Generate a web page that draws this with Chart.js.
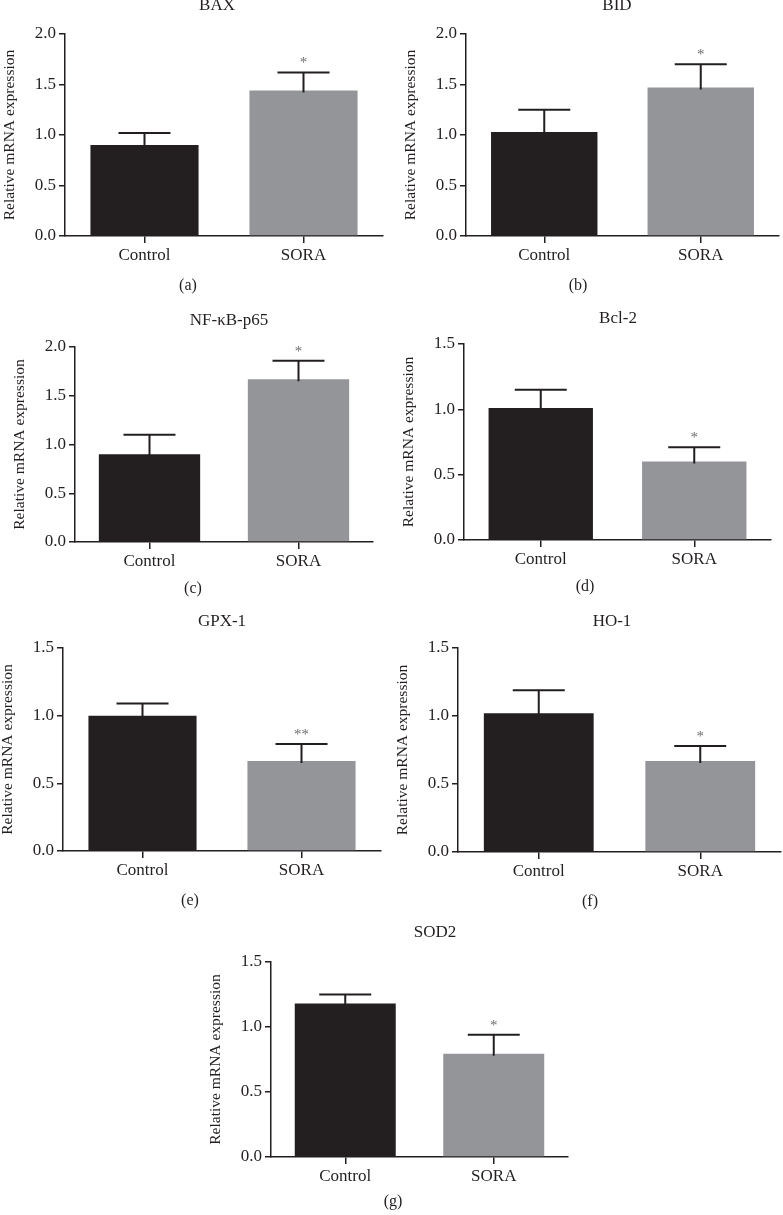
<!DOCTYPE html>
<html>
<head>
<meta charset="utf-8">
<script src="https://cdn.jsdelivr.net/npm/chart.js@4.4.1/dist/chart.umd.min.js"></script>
<style>
  html, body { margin: 0; padding: 0; background: #fff; }
  #figure { position: relative; width: 783px; height: 1215px; overflow: hidden; }
  #figure canvas { position: absolute; }
</style>
</head>
<body>
<div id="figure"></div>
<script>
// data
const genes = ['BAX', 'BID', 'NF-\u03baB-p65', 'Bcl-2', 'GPX-1', 'HO-1', 'SOD2'];
const panelTags = ['(a)', '(b)', '(c)', '(d)', '(e)', '(f)', '(g)'];
const groups = ['Control', 'SORA'];
const controlMean = [0.90, 1.03, 0.90, 1.01, 1.00, 1.02, 1.18];
const controlErr = [0.12, 0.22, 0.20, 0.14, 0.09, 0.17, 0.07];
const soraMean = [1.44, 1.47, 1.67, 0.60, 0.665, 0.67, 0.795];
const soraErr = [0.18, 0.23, 0.19, 0.11, 0.125, 0.11, 0.145];
const yMax = [2.0, 2.0, 2.0, 1.5, 1.5, 1.5, 1.5];
const sigMarks = ['*', '*', '*', '*', '**', '*', '*'];

// where each panel sits on the page (px)
const panels = [
  {axisX: 65,  right: 383, top: 34,  zero: 236,  titleX: 217, titleY: 9.5, tagX: 188, tagY: 286},
  {axisX: 466, right: 779, top: 34,  zero: 236,  titleX: 617, titleY: 9.5, tagX: 578, tagY: 286},
  {axisX: 75,  right: 373, top: 347, zero: 542,  titleX: 229, titleY: 325, tagX: 193, tagY: 589},
  {axisX: 464, right: 771, top: 344, zero: 540,  titleX: 618, titleY: 323, tagX: 585, tagY: 587},
  {axisX: 63,  right: 381, top: 648, zero: 851,  titleX: 222, titleY: 626, tagX: 190, tagY: 901},
  {axisX: 458, right: 781, top: 648, zero: 852,  titleX: 612, titleY: 626, tagX: 590, tagY: 902},
  {axisX: 271, right: 568, top: 962, zero: 1157, titleX: 435, titleY: 937, tagX: 393, tagY: 1202}
];

const FONT = "'Liberation Serif', 'Times New Roman', serif";
const INK = '#231f20';
const Y_W = 64;   // width reserved for the y axis
const X_H = 30;   // height reserved for the x axis

Chart.defaults.font.family = FONT;
Chart.defaults.color = INK;

// error bars, significance marks, panel title and tag
const panelExtras = {
  id: 'panelExtras',
  afterDatasetsDraw(chart, args, opts) {
    const ctx = chart.ctx;
    const y = chart.scales.y;
    const meta = chart.getDatasetMeta(0);
    ctx.save();
    meta.data.forEach(function(bar, i) {
      const mean = opts.means[i];
      const top = y.getPixelForValue(mean + opts.errors[i]);
      const base = y.getPixelForValue(mean) + 2;
      ctx.strokeStyle = INK;
      ctx.lineWidth = 2;
      ctx.beginPath();
      ctx.moveTo(bar.x, base);
      ctx.lineTo(bar.x, top);
      ctx.moveTo(bar.x - 26, top);
      ctx.lineTo(bar.x + 26, top);
      ctx.stroke();
      if (i == 1) {
        ctx.fillStyle = '#6d6e71';
        ctx.font = '15px ' + FONT;
        ctx.textAlign = 'center';
        ctx.textBaseline = 'alphabetic';
        ctx.fillText(opts.mark, bar.x, top - 5);
      }
    });
    ctx.fillStyle = INK;
    ctx.textAlign = 'center';
    ctx.font = '17px ' + FONT;
    ctx.textBaseline = 'alphabetic';
    ctx.fillText(opts.title, opts.titleX, opts.titleY);
    ctx.font = '16px ' + FONT;
    ctx.textBaseline = 'middle';
    ctx.fillText(opts.tag, opts.tagX, opts.tagY);
    ctx.restore();
  }
};

const figure = document.getElementById('figure');

panels.forEach(function(p, k) {
  const left = Math.max(0, p.axisX - Y_W);
  const topEdge = Math.max(0, Math.round(p.titleY - 20));
  const rightEdge = Math.min(783, p.right + 3);
  const bottomEdge = Math.min(1215, p.tagY + 14);
  const w = rightEdge - left, h = bottomEdge - topEdge;

  const canvas = document.createElement('canvas');
  canvas.width = w;
  canvas.height = h;
  canvas.style.left = left + 'px';
  canvas.style.top = topEdge + 'px';
  figure.appendChild(canvas);

  new Chart(canvas, {
    type: 'bar',
    data: {
      labels: groups,
      datasets: [{
        data: [controlMean[k], soraMean[k]],
        backgroundColor: [INK, '#939598'],
        borderWidth: 0,
        categoryPercentage: 1,
        barPercentage: 0.68
      }]
    },
    plugins: [panelExtras],
    options: {
      responsive: false,
      animation: false,
      layout: {
        padding: {
          left: p.axisX - Y_W - left,
          top: p.top - topEdge,
          right: rightEdge - p.right,
          bottom: bottomEdge - p.zero - X_H
        }
      },
      scales: {
        x: {
          afterFit: function(s) { s.height = X_H; },
          grid: { offset: false, drawOnChartArea: false, tickLength: 7, color: INK, lineWidth: 1.5 },
          border: { color: INK, width: 1.5 },
          ticks: { font: { size: 17 }, padding: 2, color: INK, maxRotation: 0 }
        },
        y: {
          min: 0,
          max: yMax[k],
          afterFit: function(s) { s.width = Y_W; },
          grid: { drawOnChartArea: false, tickLength: 6, color: INK, lineWidth: 1.5 },
          border: { color: INK, width: 1.5 },
          ticks: {
            stepSize: 0.5,
            padding: 3,
            font: { size: 17 },
            color: INK,
            callback: function(v) { return v.toFixed(1); }
          },
          title: {
            display: true,
            text: 'Relative mRNA expression',
            font: { size: 15.5 },
            padding: { top: 0, bottom: 0 },
            color: INK
          }
        }
      },
      plugins: {
        legend: { display: false },
        tooltip: { enabled: false },
        panelExtras: {
          means: [controlMean[k], soraMean[k]],
          errors: [controlErr[k], soraErr[k]],
          mark: sigMarks[k],
          title: genes[k],
          titleX: p.titleX - left,
          titleY: p.titleY - topEdge,
          tag: panelTags[k],
          tagX: p.tagX - left,
          tagY: p.tagY - topEdge
        }
      }
    }
  });
});
</script>
</body>
</html>
